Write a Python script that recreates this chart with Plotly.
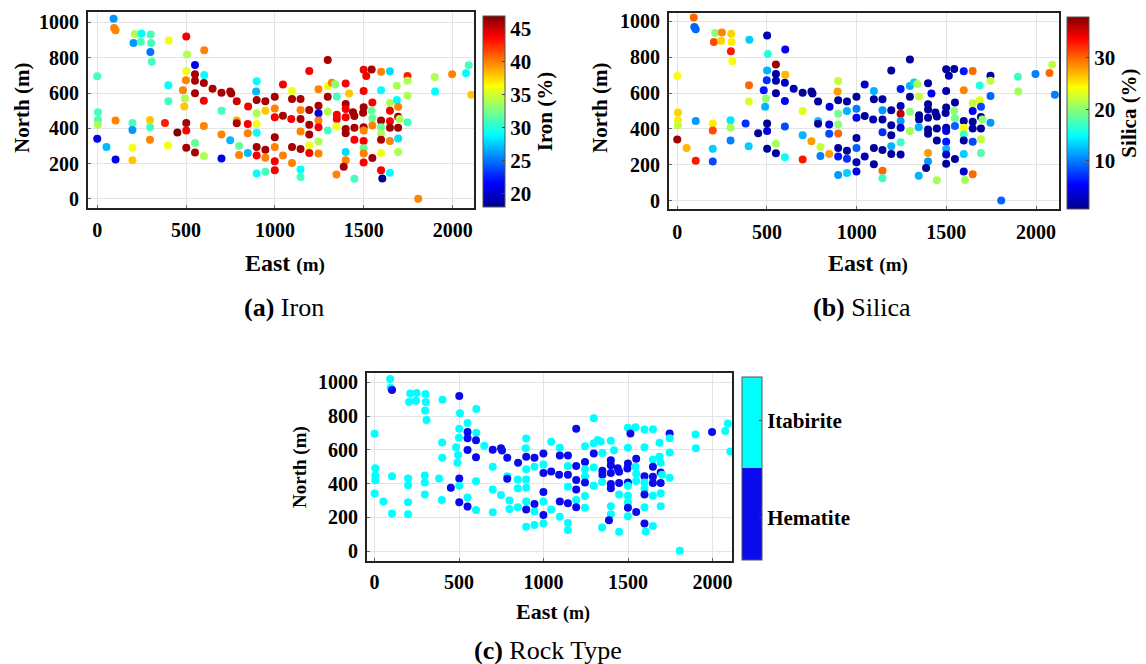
import plotly.graph_objects as go

# Sample locations (m) and assay values per drill-hole composite
east = [
    92, 95, 103, 211, 249, 301, 204, 245, 303, 299,
    307, 402, 501, 602, 505, 550, 501, 550, 602, 499,
    550, 600, 649, 699, 748, 754, 482, 550, 400, 400,
    494, 490, 600, 699, 785, 849, 897, 894, 897, 897,
    946, 946, 999, 999, 999, 1045, 1096, 1045, 1096, 1144,
    1144, 1193, 1193, 1092, 1144, 1193, 1144, 1193, 0, 4,
    4, 4, 0, 52, 103, 103, 198, 198, 198, 198,
    297, 297, 297, 381, 398, 451, 501, 501, 501, 550,
    550, 600, 600, 699, 699, 748, 785, 785, 798, 798,
    847, 847, 847, 897, 897, 897, 897, 897, 946, 946,
    946, 999, 999, 999, 999, 1045, 1096, 1096, 1144, 1144,
    1144, 1193, 1193, 1245, 1245, 1245, 1245, 1245, 1245, 1245,
    1297, 1297, 1320, 1338, 1398, 1417, 1348, 1297, 1297, 1348,
    1348, 1398, 1398, 1398, 1346, 1297, 1398, 1398, 1439, 1447,
    1499, 1496, 1499, 1499, 1514, 1544, 1597, 1647, 1746, 1746,
    1686, 1597, 1548, 1647, 1686, 1746, 1544, 1548, 1499, 1499,
    1447, 1447, 1499, 1499, 1499, 1548, 1597, 1597, 1597, 1597,
    1647, 1647, 1647, 1693, 1693, 1693, 1701, 1693, 1693, 1746,
    1597, 1548, 1499, 1398, 1398, 1387, 1346, 1447, 1597, 1604,
    1647, 1806, 1899, 1997, 2075, 2090, 1901, 2105, 1647,
]
north = [
    1021, 968, 955, 935, 937, 931, 884, 891, 884, 833,
    777, 897, 920, 843, 818, 759, 725, 706, 702, 672,
    669, 657, 624, 601, 609, 597, 616, 599, 644, 553,
    569, 524, 556, 500, 553, 524, 667, 609, 560, 485,
    553, 500, 579, 513, 463, 648, 612, 472, 566, 566,
    504, 725, 504, 453, 453, 421, 382, 365, 695, 491,
    448, 420, 341, 294, 444, 223, 431, 391, 290, 219,
    448, 406, 335, 431, 303, 376, 431, 388, 290, 317,
    264, 414, 243, 365, 230, 332, 444, 429, 300, 249,
    425, 373, 260, 425, 375, 294, 247, 144, 279, 234,
    154, 350, 294, 214, 163, 247, 294, 204, 283, 167,
    125, 303, 260, 622, 528, 485, 444, 406, 326, 257,
    787, 639, 659, 650, 654, 598, 581, 579, 496, 477,
    453, 538, 509, 463, 410, 388, 397, 373, 491, 470,
    519, 489, 612, 732, 697, 734, 721, 723, 697, 669,
    642, 616, 547, 543, 560, 584, 500, 459, 406, 388,
    403, 335, 328, 288, 257, 416, 444, 406, 369, 335,
    500, 440, 328, 523, 466, 403, 453, 343, 266, 435,
    260, 232, 206, 266, 219, 182, 139, 114, 163, 116,
    148, 2, 691, 706, 712, 757, 609, 590, 403,
]
iron = [
    26, 40, 40, 34, 29, 31, 26, 31, 31, 25,
    31, 36, 44, 40, 34, 21, 36, 46, 29, 40,
    46, 46, 46, 46, 46, 46, 40, 46, 29, 31,
    34, 38, 44, 31, 45, 44, 29, 27, 46, 34,
    46, 38, 46, 40, 44, 44, 36, 46, 46, 46,
    40, 44, 46, 44, 46, 46, 40, 46, 31, 31,
    31, 34, 21, 27, 40, 21, 31, 26, 36, 38,
    38, 31, 40, 43, 36, 47, 46, 44, 46, 32,
    46, 40, 34, 40, 21, 27, 39, 46, 32, 40,
    44, 40, 27, 36, 29, 46, 44, 29, 46, 40,
    31, 46, 40, 44, 44, 40, 46, 40, 46, 29,
    31, 36, 44, 40, 46, 21, 40, 44, 34, 40,
    46, 36, 40, 33, 44, 38, 31, 46, 34, 44,
    44, 46, 44, 44, 36, 31, 46, 46, 46, 46,
    46, 46, 44, 44, 44, 46, 40, 28, 43, 34,
    34, 29, 44, 34, 29, 34, 32, 32, 46, 40,
    46, 44, 44, 32, 40, 40, 46, 32, 34, 46,
    44, 44, 40, 40, 46, 46, 34, 28, 34, 31,
    36, 46, 44, 28, 40, 46, 40, 31, 44, 18,
    29, 40, 34, 40, 29, 31, 29, 38, 46,
]
silica = [
    30, 9, 9, 20, 29, 26, 31, 26, 25, 33,
    24, 13, 2, 5, 16, 37, 12, 1.5, 27, 7,
    1.5, 3, 1.5, 1, 1, 1, 6, 1, 30, 23,
    20, 12, 5, 23, 1, 4, 22, 28, 1, 19,
    1, 12, 1, 10, 5, 3, 12, 1, 1, 1,
    11, 1, 1, 2, 1, 1, 7, 1, 24, 26,
    25, 22, 37, 27, 11, 33, 25, 31, 13, 8,
    14, 21, 10, 7, 13, 1, 1, 4, 1, 21,
    1, 8, 15, 12, 33, 28, 13, 1, 22, 10,
    4, 8, 28, 20, 30, 1, 6, 11, 1, 7,
    13, 1, 9, 2, 4, 2, 1, 1, 1, 30,
    17, 12, 1, 6, 2, 36, 11, 3, 17, 2,
    1, 12, 13, 21, 1, 5, 22, 1, 20, 1,
    1, 1, 1, 1, 12, 21, 1, 1, 1, 1,
    1, 1, 2, 1, 2, 1, 6, 30, 1, 22,
    16, 29, 1, 22, 23, 9, 20, 19, 2, 4,
    1, 1, 6, 12, 3, 9, 1, 24, 17, 1,
    5, 1, 8, 8, 1, 1, 20, 22, 18, 11,
    13, 1, 1, 28, 11, 1, 12, 21, 3, 21,
    30, 9, 17, 10, 30, 22, 21, 10, 1,
]
rock = [
    "I", "I", "H", "I", "I", "I", "I", "I", "I", "I",
    "I", "I", "H", "I", "I", "I", "I", "H", "I", "I",
    "H", "H", "I", "H", "H", "H", "I", "H", "I", "I",
    "I", "I", "H", "I", "H", "H", "I", "I", "H", "I",
    "H", "I", "H", "I", "H", "I", "I", "H", "H", "H",
    "I", "H", "H", "H", "H", "H", "I", "H", "I", "I",
    "I", "I", "I", "I", "I", "I", "I", "I", "I", "I",
    "I", "I", "I", "I", "I", "H", "H", "I", "H", "I",
    "H", "I", "I", "I", "I", "I", "I", "H", "I", "I",
    "I", "I", "I", "I", "I", "I", "H", "I", "H", "I",
    "I", "H", "I", "H", "I", "I", "H", "I", "H", "I",
    "I", "I", "H", "I", "H", "I", "I", "H", "I", "I",
    "I", "I", "I", "I", "I", "I", "I", "H", "I", "H",
    "H", "H", "H", "H", "I", "I", "H", "H", "H", "H",
    "H", "H", "I", "I", "H", "I", "I", "I", "H", "I",
    "I", "I", "H", "I", "I", "I", "I", "I", "H", "I",
    "H", "I", "I", "I", "H", "I", "H", "I", "I", "H",
    "H", "H", "I", "I", "H", "H", "I", "I", "I", "I",
    "I", "H", "I", "I", "I", "H", "I", "I", "H", "I",
    "I", "I", "I", "H", "I", "I", "I", "I", "H",
]

rock_labels = ["Hematite", "Itabirite"]
rock_code = {"H": 0, "I": 1}
iron_ticks = [20, 25, 30, 35, 40, 45]
silica_ticks = [10, 20, 30]
x_ticks = [0, 500, 1000, 1500, 2000]
y_ticks = [0, 200, 400, 600, 800, 1000]

W, H = 1146, 664
SERIF = "Liberation Serif"

jet = [
    [0.0, "rgb(0,0,143)"], [0.127, "rgb(0,0,255)"], [0.381, "rgb(0,255,255)"],
    [0.635, "rgb(255,255,0)"], [0.889, "rgb(255,0,0)"], [1.0, "rgb(128,0,0)"],
]
rock_scale = [[0, "#0a0aec"], [0.5, "#0a0aec"], [0.5, "#00ffff"], [1, "#00ffff"]]


def px_x(p):
    return p / W


def px_y(p):
    return 1 - p / H


tickfont = dict(family=SERIF, size=20, color="black", weight="bold")

fig = go.Figure()


def colorbar(left, top, bottom, thick, **kw):
    return dict(
        x=px_x(left), xanchor="left", xpad=0, ypad=0,
        y=px_y(top), yanchor="top", lenmode="fraction", len=(bottom - top) / H,
        thickness=thick, outlinewidth=1, outlinecolor="#555",
        tickfont=dict(family=SERIF, size=21, color="black", weight="bold"),
        ticks="inside", ticklen=3, tickcolor="#444",
        **kw,
    )


fig.add_trace(go.Scatter(
    x=east, y=north, mode="markers", xaxis="x", yaxis="y",
    marker=dict(
        size=8, color=iron, colorscale=jet, cmin=17.9, cmax=47.0,
        line=dict(width=0),
        colorbar=colorbar(483, 16, 207, 22, tickvals=iron_ticks,
                          title=dict(text="<b>Iron (%)</b>", side="right",
                                     font=dict(family=SERIF, size=21, color="black"))),
    ),
    showlegend=False,
))
fig.add_trace(go.Scatter(
    x=east, y=north, mode="markers", xaxis="x2", yaxis="y2",
    marker=dict(
        size=8, color=silica, colorscale=jet, cmin=0.5, cmax=38.0,
        line=dict(width=0),
        colorbar=colorbar(1067, 17, 209, 22, tickvals=silica_ticks,
                          title=dict(text="<b>Silica (%)</b>", side="right",
                                     font=dict(family=SERIF, size=21, color="black"))),
    ),
    showlegend=False,
))
fig.add_trace(go.Scatter(
    x=east, y=north, mode="markers", xaxis="x3", yaxis="y3",
    marker=dict(
        size=8, color=[rock_code[r] for r in rock], colorscale=rock_scale, cmin=0, cmax=1,
        line=dict(width=0),
        colorbar=colorbar(742, 377, 560, 20, tickvals=[0.23, 0.76], ticktext=rock_labels),
    ),
    showlegend=False,
))


def xaxis(left, right, rng, anchor, standoff):
    return dict(
        domain=[px_x(left), px_x(right)], range=rng, anchor=anchor,
        tickvals=x_ticks, tickfont=tickfont, ticklabelstandoff=standoff,
        showline=True, linewidth=2, linecolor="#222", mirror=True,
        showgrid=True, gridcolor="#e4e4e4", gridwidth=1, zeroline=False,
        ticks="inside", ticklen=3, tickcolor="#666", automargin=False,
    )


def yaxis(top, bottom, rng, anchor):
    return dict(
        domain=[px_y(bottom), px_y(top)], range=rng, anchor=anchor,
        tickvals=y_ticks, tickfont=tickfont, ticklabelstandoff=3,
        showline=True, linewidth=2, linecolor="#222", mirror=True,
        showgrid=True, gridcolor="#e4e4e4", gridwidth=1, zeroline=False,
        ticks="inside", ticklen=3, tickcolor="#666", automargin=False,
    )


def label(text, cx, cy, size, angle=0):
    return dict(
        text=text, x=px_x(cx), y=px_y(cy), xref="paper", yref="paper",
        xanchor="center", yanchor="middle", showarrow=False, textangle=angle,
        font=dict(family=SERIF, size=size, color="black"),
    )


east_title = "<b>East</b> <b><span style='font-size:%dpx'>(m)</span></b>"

fig.update_layout(
    width=W, height=H,
    margin=dict(l=0, r=0, t=0, b=0),
    paper_bgcolor="white", plot_bgcolor="white",
    xaxis=xaxis(88, 474, [-52, 2120], "y", 3),
    yaxis=yaxis(12, 208, [-51, 1059], "x"),
    xaxis2=xaxis(669, 1059, [-46, 2128], "y2", 4),
    yaxis2=yaxis(13, 209, [-46, 1046], "x2"),
    xaxis3=xaxis(367, 732, [-45, 2115], "y3", 2),
    yaxis3=yaxis(373, 561, [-59, 1056], "x3"),
    annotations=[
        label("<b>North (m)</b>", 22, 108, 21, -90),
        label(east_title % 19, 285, 263, 24),
        label("<b>(a)</b> Iron", 284, 307, 26),
        label("<b>North (m)</b>", 600, 108, 21, -90),
        label(east_title % 19, 868, 263, 24),
        label("<b>(b)</b> Silica", 862, 307, 26),
        label("<b>North (m)</b>", 300, 467, 19, -90),
        label(east_title % 18, 553, 611, 22),
        label("<b>(c)</b> Rock Type", 548, 650, 26),
    ],
)

fig.write_html("out.html")
